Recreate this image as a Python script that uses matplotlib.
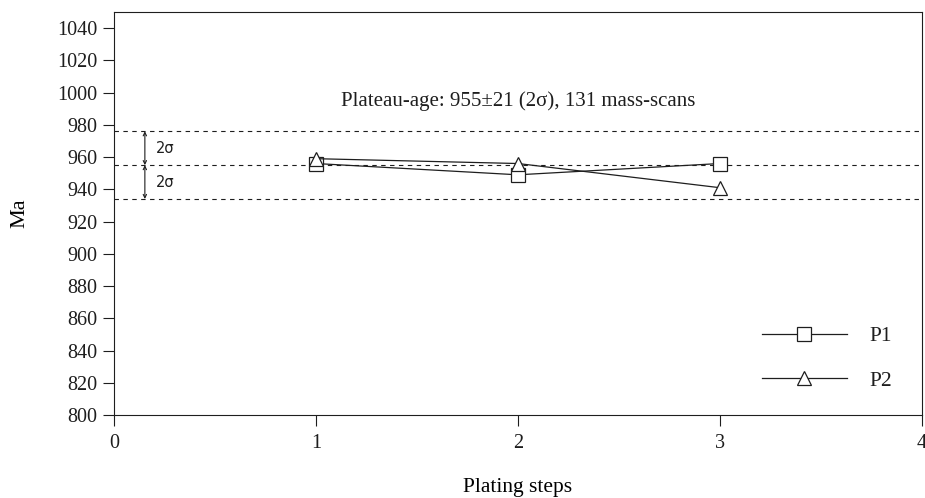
import matplotlib
matplotlib.use("Agg")
import matplotlib.pyplot as plt

# ---- data ----
steps = [1, 2, 3]
p1_ages = [956, 949, 956]
p2_ages = [959, 956, 941]
series_labels = ["P1", "P2"]

plateau_age = 955
plateau_err = 21
plateau_band = [plateau_age + plateau_err, plateau_age, plateau_age - plateau_err]
n_scans = 131

x_ticks = [0, 1, 2, 3, 4]
y_ticks = list(range(800, 1041, 20))

# ---- style ----
ink = "#1e1e1e"
plt.rcParams["font.family"] = ["Liberation Serif", "DejaVu Serif"]
plt.rcParams["font.size"] = 14.5
plt.rcParams["text.color"] = ink
plt.rcParams["axes.edgecolor"] = ink
plt.rcParams["xtick.color"] = ink
plt.rcParams["ytick.color"] = ink

fig = plt.figure(figsize=(9.25, 4.98), dpi=100)
ax = fig.add_axes([0.1232, 0.1667, 0.8735, 0.8092])

ax.set_xlim(0, 4)
ax.set_ylim(800, 1050)
ax.set_xticks(x_ticks)
ax.set_yticks(y_ticks)
ax.tick_params(direction="out", length=8, width=0.8, labelsize=14.5)
ax.tick_params(axis="x", pad=6)
ax.tick_params(axis="y", pad=4)
for s in ax.spines.values():
    s.set_linewidth(0.8)

# plateau age and 2-sigma limits
for y in plateau_band:
    ax.axhline(y, color=ink, lw=0.8, ls=(0, (4, 4)), zorder=1)

# brackets marking 2 sigma above and below
bx = 0.153
for top, bot in [(plateau_band[0], plateau_band[1]), (plateau_band[1], plateau_band[2])]:
    ax.annotate("", xy=(bx, top), xytext=(bx, bot),
                arrowprops=dict(arrowstyle="<->", lw=0.8, color=ink,
                                mutation_scale=6, shrinkA=0, shrinkB=0))
    ax.text(bx + 0.055, (top + bot) / 2, "2σ",
            family="DejaVu Sans", fontsize=10.5, va="center", ha="left")

ax.plot(steps, p1_ages, color=ink, lw=0.9, marker="s", ms=10,
        mfc="white", mec=ink, mew=0.9, label=series_labels[0], zorder=3)
ax.plot(steps, p2_ages, color=ink, lw=0.9, marker="^", ms=10,
        mfc="white", mec=ink, mew=0.9, label=series_labels[1], zorder=3)

ax.text(2, 995, f"Plateau-age: {plateau_age}±{plateau_err} (2σ), {n_scans} mass-scans",
        ha="center", va="center", fontsize=15)

ax.legend(loc="upper left", bbox_to_anchor=(0.802, 0.22), frameon=False,
          handlelength=3.95, handletextpad=1.05, labelspacing=1.13,
          borderpad=0, borderaxespad=0, fontsize=15.5)

ax.set_ylabel("Ma", fontsize=16, va="center")
ax.yaxis.set_label_coords(-0.116, 0.5)
ax.set_xlabel("Plating steps", fontsize=15.5, va="center")
ax.xaxis.set_label_coords(0.5, -0.181)

fig.savefig("out.png", dpi=100)
